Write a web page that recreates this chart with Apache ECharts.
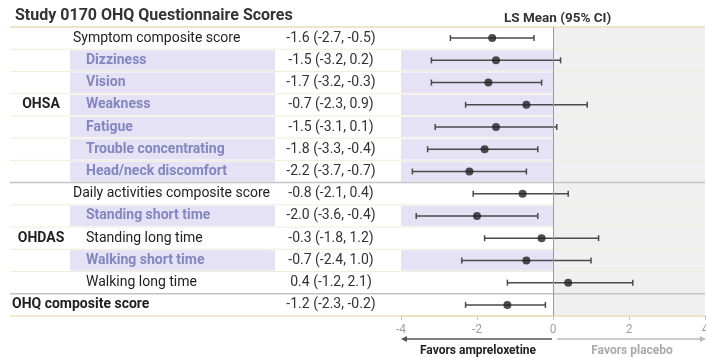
<!DOCTYPE html>
<html>
<head>
<meta charset="utf-8">
<script src="https://cdn.jsdelivr.net/npm/echarts@6/dist/echarts.min.js"></script>
<style>
html,body{margin:0;padding:0;background:#fff;}
#c{width:706px;height:358px;}
</style>
</head>
<body>
<div id="c"></div>
<script>
// ---- data ----
const categories = ['Symptom composite score','Dizziness','Vision','Weakness','Fatigue','Trouble concentrating','Head/neck discomfort','Daily activities composite score','Standing short time','Standing long time','Walking short time','Walking long time','OHQ composite score'];
const groupLabels = ['OHSA','OHDAS'];
const groupRows = [[0,6],[7,11]];
const highlighted = [0,1,1,1,1,1,1,0,1,0,1,0,0];
const lsMean = [-1.6,-1.5,-1.7,-0.7,-1.5,-1.8,-2.2,-0.8,-2.0,-0.3,-0.7,0.4,-1.2];
const ciLow  = [-2.7,-3.2,-3.2,-2.3,-3.1,-3.3,-3.7,-2.1,-3.6,-1.8,-2.4,-1.2,-2.3];
const ciHigh = [-0.5,0.2,-0.3,0.9,0.1,-0.4,-0.7,0.4,-0.4,1.2,1.0,2.1,-0.2];
const xTicks = [-4,-2,0,2,4];

// ---- style ----
const FONT = 'Roboto, "Noto Sans", sans-serif';
const PURPLE_BG = '#e4e2f4';
const PURPLE_TXT = '#8486c0';
const GRID_TOP = 27, GRID_H = 289;
const LAYOUT = {lineLeft:10, lineRight:705, hlLeft:70, hlRight:275, labelX:73, indentX:86, valueX:331, groupX:41};
const subRows = [1,2,3,4,5,6,8,9,10,11];
const fmt = v => v.toFixed(1);
const rowIdx = categories.map((_, i) => i);

const chart = echarts.init(document.getElementById('c'), null, {renderer:'canvas'});

function tableRow(params, api) {
  const i = api.value(0);
  const yc = api.coord([0, i])[1];
  const h = api.size([0, 1])[1];
  const top = yc - h / 2, bot = yc + h / 2;
  const ch = [];
  if (highlighted[i]) {
    ch.push({type:'rect', shape:{x:LAYOUT.hlLeft, y:top + 1, width:LAYOUT.hlRight - LAYOUT.hlLeft, height:h - 2}, style:{fill:PURPLE_BG}});
  }
  if (i === 0) {
    ch.push({type:'line', shape:{x1:LAYOUT.lineLeft, y1:top, x2:LAYOUT.lineRight, y2:top}, style:{stroke:'#efe4c8', lineWidth:2}});
  }
  let sepColor = '#f3ecdc', sepW = 1;
  if (i === 6 || i === 11) { sepColor = '#c4c4c4'; sepW = 1.5; }
  if (i === 12) { sepColor = '#ece0c0'; sepW = 1.5; }
  ch.push({type:'line', shape:{x1:LAYOUT.lineLeft, y1:bot, x2:LAYOUT.lineRight, y2:bot}, style:{stroke:sepColor, lineWidth:sepW}});
  // label
  const isOverall = i === 12;
  const hl = highlighted[i];
  let lx = LAYOUT.labelX;
  if (subRows.indexOf(i) >= 0) lx = LAYOUT.indentX;
  if (isOverall) lx = 12;
  ch.push({type:'text', style:{text:categories[i], x:lx, y:yc, verticalAlign:'middle', align:'left',
    fill: hl ? PURPLE_TXT : '#1e1e1e', font: ((hl || isOverall) ? 'bold ' : '') + '14px ' + FONT}});
  ch.push({type:'text', style:{text: fmt(lsMean[i]) + ' (' + fmt(ciLow[i]) + ', ' + fmt(ciHigh[i]) + ')', x:LAYOUT.valueX, y:yc,
    verticalAlign:'middle', align:'center', fill:'#333', font:'14px ' + FONT}});
  // group labels
  groupRows.forEach((g, gi) => {
    if (i === Math.round((g[0] + g[1]) / 2)) {
      ch.push({type:'text', style:{text:groupLabels[gi], x:LAYOUT.groupX, y:yc, verticalAlign:'middle', align:'center', fill:'#222', font:'bold 14px ' + FONT}});
    }
  });
  return {type:'group', children:ch};
}

function forestBg(params, api) {
  const i = api.value(0);
  if (!highlighted[i]) return null;
  const p0 = api.coord([-4, i]), p1 = api.coord([0, i]);
  const h = api.size([0, 1])[1];
  return {type:'rect', shape:{x:p0[0], y:p0[1] - h / 2 + 1, width:p1[0] - p0[0], height:h - 2}, style:{fill:PURPLE_BG}};
}

function errBar(params, api) {
  const i = api.value(0);
  const a = api.coord([api.value(1), i]), b = api.coord([api.value(2), i]);
  const cap = 3;
  const st = {stroke:'#4a4a4a', lineWidth:1.5};
  return {type:'group', children:[
    {type:'line', shape:{x1:a[0], y1:a[1], x2:b[0], y2:b[1]}, style:st},
    {type:'line', shape:{x1:a[0], y1:a[1] - cap, x2:a[0], y2:a[1] + cap}, style:st},
    {type:'line', shape:{x1:b[0], y1:b[1] - cap, x2:b[0], y2:b[1] + cap}, style:st}
  ]};
}

const option = {
  animation:false,
  backgroundColor:'#fff',
  title:[
    {text:'Study 0170 OHQ Questionnaire Scores', left:10, top:3, textStyle:{fontFamily:FONT, fontSize:16, fontWeight:'bold', color:'#333'}},
    {text:'LS Mean (95% CI)', left:499, top:7, textStyle:{fontFamily:FONT, fontSize:13.5, fontWeight:'bold', color:'#333'}}
  ],
  grid:[
    {left:0, right:0, top:GRID_TOP, height:GRID_H, containLabel:false, outerBoundsMode:'none'},
    {left:401, right:1, top:GRID_TOP, height:GRID_H, containLabel:false, outerBoundsMode:'none'}
  ],
  xAxis:[
    {gridIndex:0, type:'value', min:0, max:706, show:false},
    {gridIndex:1, type:'value', min:xTicks[0], max:xTicks[xTicks.length - 1], interval:2,
      splitLine:{show:false},
      axisLine:{show:true, onZero:false, lineStyle:{color:'#e6dab8', width:1.5}},
      axisTick:{show:true, length:4, lineStyle:{color:'#cfc19a'}},
      axisLabel:{color:'#a0a0a0', fontSize:12, fontFamily:FONT, margin:8, showMaxLabel:true}}
  ],
  yAxis:[
    {gridIndex:0, type:'category', data:categories, inverse:true, show:false},
    {gridIndex:1, type:'category', data:categories, inverse:true, show:false}
  ],
  series:[
    {type:'custom', xAxisIndex:1, yAxisIndex:1, z:0, renderItem:forestBg, data:rowIdx.map(i => [i]),
      markArea:{silent:true, itemStyle:{color:'#f0f0f0'}, data:[[{xAxis:0}, {xAxis:4}]]}},
    {type:'custom', xAxisIndex:0, yAxisIndex:0, z:1, renderItem:tableRow, data:rowIdx.map(i => [i]), silent:true},
    {type:'custom', xAxisIndex:1, yAxisIndex:1, z:3, renderItem:errBar, data:rowIdx.map(i => [i, ciLow[i], ciHigh[i]]),
      markLine:{silent:true, symbol:'none', label:{show:false}, lineStyle:{color:'#9a9a9a', width:1, type:'solid'}, data:[{xAxis:0}]}},
    {type:'scatter', xAxisIndex:1, yAxisIndex:1, z:4, symbol:'circle', symbolSize:8, itemStyle:{color:'#222'},
      data:rowIdx.map(i => [lsMean[i], i])}
  ],
  graphic:[
    {type:'line', shape:{x1:552, y1:339, x2:404, y2:339}, style:{stroke:'#555', lineWidth:1.5}},
    {type:'polygon', shape:{points:[[401,339],[407,336],[407,342]]}, style:{fill:'#555'}},
    {type:'line', shape:{x1:557, y1:339, x2:702, y2:339}, style:{stroke:'#bbb', lineWidth:1.5}},
    {type:'polygon', shape:{points:[[706,339],[700,336],[700,342]]}, style:{fill:'#bbb'}},
    {type:'text', style:{text:'Favors ampreloxetine', x:478, y:351, align:'center', verticalAlign:'middle', fill:'#222', font:'bold 12px ' + FONT}},
    {type:'text', style:{text:'Favors placebo', x:632, y:351, align:'center', verticalAlign:'middle', fill:'#aaa', font:'bold 12px ' + FONT}}
  ]
};
chart.setOption(option);
</script>
</body>
</html>
